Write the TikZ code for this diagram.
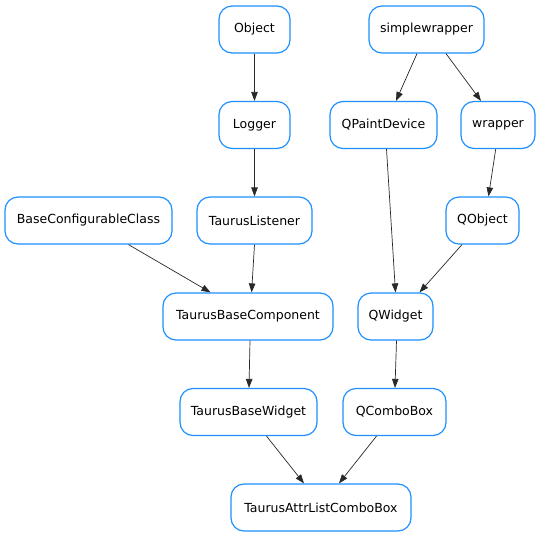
\documentclass[tikz,border=0pt]{standalone}
\usepackage{fontspec}
\setmainfont{DejaVu Sans}
\usetikzlibrary{arrows.meta}
\definecolor{boxblue}{RGB}{30,144,255}
\definecolor{edgegray}{RGB}{40,40,40}
\tikzset{
  cls/.style={draw=boxblue, line width=1.2pt, rounded corners=13pt, fill=white,
    minimum height=47pt, inner sep=0pt, font=\fontsize{12.5}{14}\selectfont},
  edge/.style={draw=edgegray, line width=0.7pt, -{Triangle[length=9pt,width=6.5pt]}}
}
\begin{document}
\begin{tikzpicture}[x=1pt,y=-1pt]
\useasboundingbox (0,0) rectangle (541,539);
\node[cls, minimum width=71pt]  (object) at (254.5,29.5) {Object};
\node[cls, minimum width=115pt] (simplewrapper) at (426.5,29.5) {simplewrapper};
\node[cls, minimum width=71pt]  (logger) at (254.5,125) {Logger};
\node[cls, minimum width=107pt] (qpaintdevice) at (383.5,125) {QPaintDevice};
\node[cls, minimum width=74pt]  (wrapper) at (498,125) {wrapper};
\node[cls, minimum width=167pt] (baseconf) at (88.5,220.5) {BaseConfigurableClass};
\node[cls, minimum width=115pt] (tlistener) at (254.5,220.5) {TaurusListener};
\node[cls, minimum width=73pt]  (qobject) at (482.5,220.5) {QObject};
\node[cls, minimum width=170pt] (tbasecomp) at (248,316.5) {TaurusBaseComponent};
\node[cls, minimum width=75pt]  (qwidget) at (395.5,316.5) {QWidget};
\node[cls, minimum width=137pt] (tbasewidget) at (248.5,412) {TaurusBaseWidget};
\node[cls, minimum width=103pt] (qcombobox) at (394.5,412) {QComboBox};
\node[cls, minimum width=180pt] (tattr) at (321,507.5) {TaurusAttrListComboBox};

\draw[edge] (object.south) -- (logger.north);
\draw[edge] ([xshift=-9.5pt]simplewrapper.south) -- ([xshift=12.5pt]qpaintdevice.north);
\draw[edge] ([xshift=19.5pt]simplewrapper.south) -- ([xshift=-17pt]wrapper.north);
\draw[edge] ([xshift=3pt]qpaintdevice.south) -- (qwidget.north);
\draw[edge] ([xshift=-2.3pt]wrapper.south) -- ([xshift=6pt]qobject.north);
\draw[edge] ([xshift=-20.5pt]qobject.south) -- ([xshift=24pt]qwidget.north);
\draw[edge] (logger.south) -- (tlistener.north);
\draw[edge] ([xshift=40pt]baseconf.south) -- ([xshift=-37.5pt]tbasecomp.north);
\draw[edge] (tlistener.south) -- ([xshift=3.6pt]tbasecomp.north);
\draw[edge] ([xshift=2pt]tbasecomp.south) -- ([xshift=0.5pt]tbasewidget.north);
\draw[edge] ([xshift=1pt]qwidget.south) -- ([xshift=0.5pt]qcombobox.north);
\draw[edge] ([xshift=18pt]tbasewidget.south) -- ([xshift=-17pt]tattr.north);
\draw[edge] ([xshift=-18pt]qcombobox.south) -- ([xshift=18pt]tattr.north);
\end{tikzpicture}
\end{document}
